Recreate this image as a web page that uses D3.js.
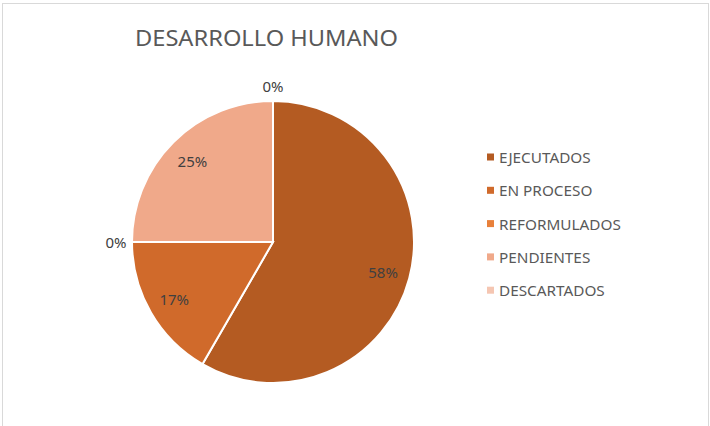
<!DOCTYPE html>
<html><head><meta charset="utf-8">
<script src="https://cdn.jsdelivr.net/npm/d3@7"></script>
<style>body{margin:0;background:#fff;}svg{display:block;font-family:"Noto Sans","Open Sans",sans-serif;}</style>
</head><body>
<script>
const categories = ["EJECUTADOS","EN PROCESO","REFORMULADOS","PENDIENTES","DESCARTADOS"];
const values = [7, 2, 0, 3, 0];
const colors = ["#B45B22","#D06A2B","#E8803A","#F0A98A","#F5C6B2"];
const title = "DESARROLLO HUMANO";

const W = 710, H = 426;
const svg = d3.select("body").append("svg").attr("width", W).attr("height", H);
svg.append("rect").attr("x",2.5).attr("y",3.5).attr("width",706).attr("height",430)
  .attr("fill","#fff").attr("stroke","#D9D9D9").attr("stroke-width",1);

svg.append("text").attr("x",135).attr("y",46).attr("font-size",21).attr("fill","#595959")
  .attr("textLength",263).attr("lengthAdjust","spacingAndGlyphs").text(title);

const cx = 273, cy = 242, r = 141;
const total = d3.sum(values);
const pie = d3.pie().sort(null).value(d => d)(values);
const arc = d3.arc().innerRadius(0).outerRadius(r);
const g = svg.append("g").attr("transform",`translate(${cx},${cy})`);
g.selectAll("path").data(pie).join("path")
  .attr("d", arc).attr("fill",(d,i)=>colors[i]).attr("stroke","#fff").attr("stroke-width",2);

g.selectAll("text").data(pie).join("text")
  .attr("x", d => { const a=(d.startAngle+d.endAngle)/2, rr = d.value===0?157:114; return rr*Math.sin(a); })
  .attr("y", d => { const a=(d.startAngle+d.endAngle)/2, rr = d.value===0?156:114; return -rr*Math.cos(a); })
  .attr("text-anchor","middle").attr("dominant-baseline","central")
  .attr("font-size",15).attr("fill","#404040")
  .text(d => Math.round(d.value/total*100) + "%");

const lg = svg.append("g");
const rows = lg.selectAll("g").data(categories).join("g")
  .attr("transform",(d,i)=>`translate(487,${157 + i*33.3})`);
rows.append("rect").attr("x",0).attr("y",-3.5).attr("width",7).attr("height",7).attr("fill",(d,i)=>colors[i]);
rows.append("text").attr("x",12).attr("y",0).attr("dominant-baseline","central")
  .attr("font-size",15.3).attr("fill","#595959").text(d=>d);
</script>
</body></html>
